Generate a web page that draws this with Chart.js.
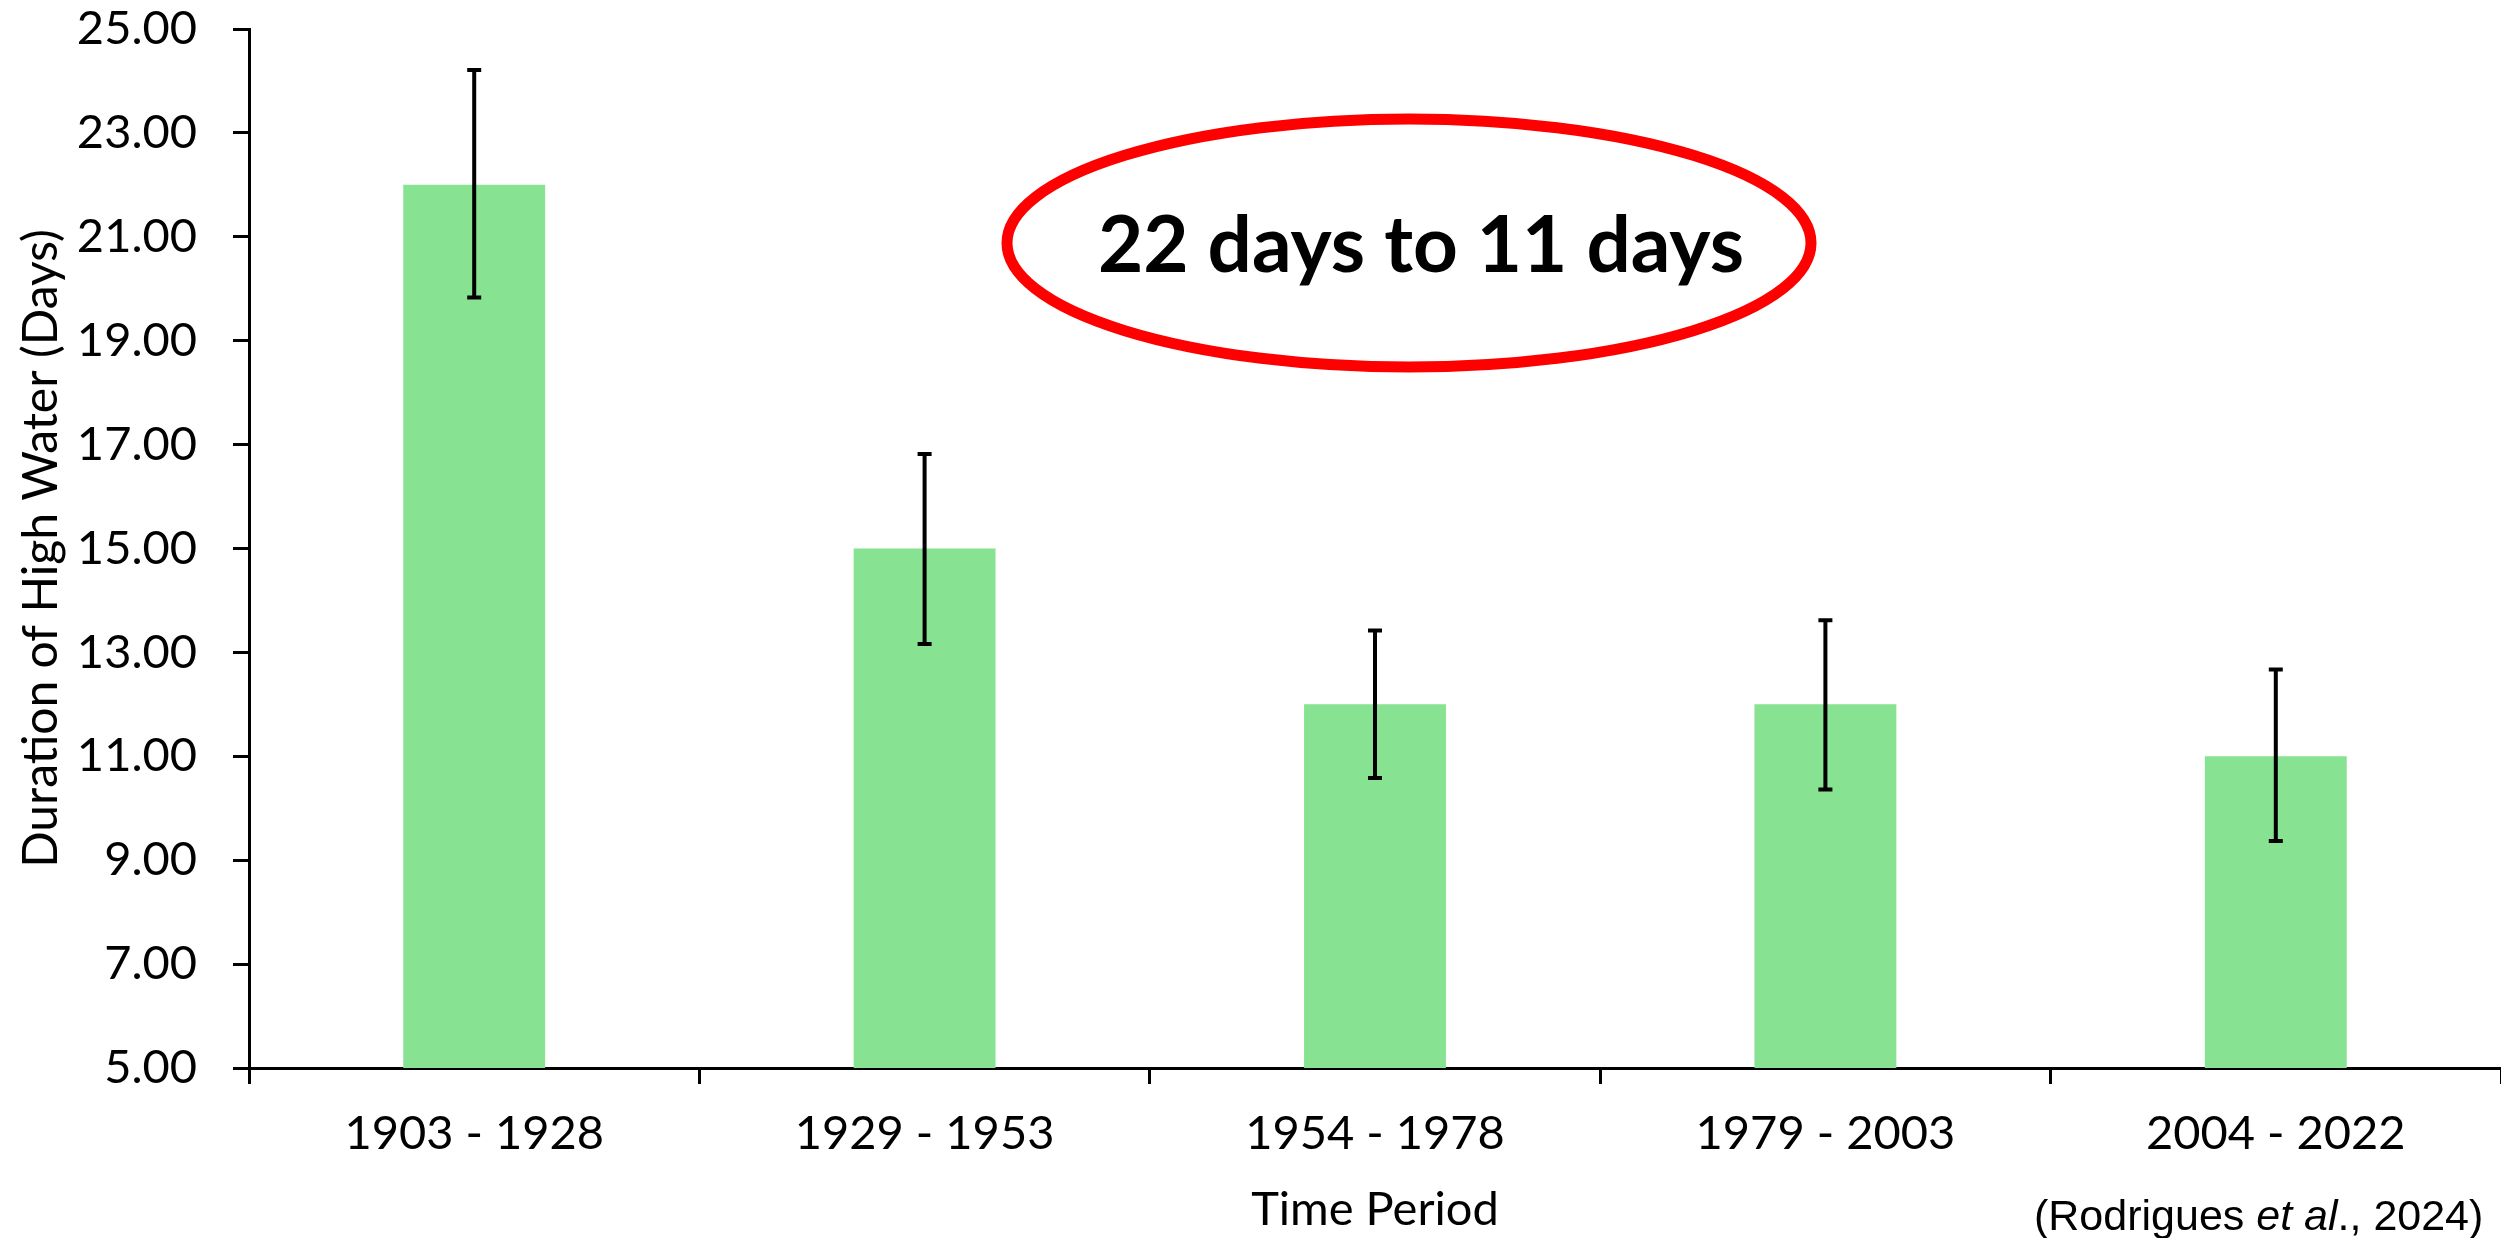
<!DOCTYPE html>
<html>
<head>
<meta charset="utf-8">
<script src="https://cdn.jsdelivr.net/npm/chart.js@4.4.1/dist/chart.umd.min.js"></script>
<style>
  html, body { margin: 0; padding: 0; background: #fff; }
  #wrap { width: 2501px; height: 1238px; }
</style>
</head>
<body>
<div id="wrap"><canvas id="dureeChart" width="2501" height="1238"></canvas></div>
<script>
'use strict';
// donnees
const periodes = ['1903 - 1928', '1929 - 1953', '1954 - 1978', '1979 - 2003', '2004 - 2022'];
const dureeMoyenne = [22, 15, 12, 12, 11];
const erreurHaute = [24.21, 16.82, 13.42, 13.62, 12.67];
const erreurBasse = [19.83, 13.16, 10.58, 10.36, 9.37];
const ticksY = [5, 7, 9, 11, 13, 15, 17, 19, 21, 23, 25];

const police = 'Lato';

// barres d'erreur (noires, avec petits chapeaux)
const barresErreur = {
  id: 'barresErreur',
  afterDatasetsDraw(chart) {
    const ctx = chart.ctx;
    const y = chart.scales.y;
    const meta = chart.getDatasetMeta(0);
    ctx.save();
    ctx.strokeStyle = '#000';
    ctx.lineWidth = 4;
    meta.data.forEach((bar, i) => {
      const yh = y.getPixelForValue(erreurHaute[i]);
      const yb = y.getPixelForValue(erreurBasse[i]);
      ctx.beginPath();
      ctx.moveTo(bar.x, yh); ctx.lineTo(bar.x, yb);
      ctx.moveTo(bar.x - 7, yh); ctx.lineTo(bar.x + 7, yh);
      ctx.moveTo(bar.x - 7, yb); ctx.lineTo(bar.x + 7, yb);
      ctx.stroke();
    });
    ctx.restore();
  }
};

// ellipse rouge + texte + source
const annotation = {
  id: 'annotation',
  afterDraw(chart) {
    const ctx = chart.ctx;
    ctx.save();
    ctx.strokeStyle = '#FF0000';
    ctx.lineWidth = 11;
    ctx.beginPath();
    ctx.ellipse(1409, 243, 402, 124, 0, 0, 2 * Math.PI);
    ctx.stroke();

    const txt = '22 days to 11 days';
    ctx.font = 'bold 78px ' + police;
    const w = ctx.measureText(txt).width;
    ctx.fillStyle = '#000';
    ctx.textAlign = 'center';
    ctx.textBaseline = 'alphabetic';
    ctx.translate(1421, 272);
    ctx.scale(646 / w, 1);
    ctx.fillText(txt, 0, 0);
    ctx.restore();

    // (Rodrigues et al., 2024)
    ctx.save();
    ctx.fillStyle = '#000';
    ctx.textBaseline = 'alphabetic';
    ctx.textAlign = 'left';
    let x = 2034;
    const yb = 1230;
    const morceaux = [['(Rodrigues ', ''], ['et al', 'italic '], ['., 2024)', '']];
    morceaux.forEach(([t, style]) => {
      ctx.font = style + '43px "Liberation Sans"';
      ctx.fillText(t, x, yb);
      x += ctx.measureText(t).width;
    });
    ctx.restore();
  }
};

const ctx = document.getElementById('dureeChart').getContext('2d');

const dureeChart = new Chart(ctx, {
  type: 'bar',
  data: {
    labels: periodes,
    datasets: [{
      data: dureeMoyenne,
      backgroundColor: '#87E291',
      borderWidth: 0,
      barPercentage: 0.315,
      categoryPercentage: 1
    }]
  },
  options: {
    responsive: false,
    animation: false,
    devicePixelRatio: 1,
    layout: { padding: 0 },
    plugins: {
      legend: { display: false },
      tooltip: { enabled: false }
    },
    scales: {
      x: {
        border: { color: '#000', width: 3 },
        grid: {
          drawOnChartArea: false,
          drawTicks: true,
          tickLength: 16,
          tickColor: '#000',
          tickWidth: 3,
          offset: true
        },
        ticks: {
          color: '#000',
          font: { family: police, size: 47 },
          padding: 22,
          maxRotation: 0
        },
        title: {
          display: true,
          text: 'Time Period',
          color: '#000',
          font: { family: police, size: 47 },
          padding: { top: 0, bottom: 0 }
        },
        afterFit(scale) { scale.height = 170; }
      },
      y: {
        min: 5,
        max: 25,
        border: { color: '#000', width: 3 },
        grid: {
          drawOnChartArea: false,
          drawTicks: true,
          tickLength: 16,
          tickColor: '#000',
          tickWidth: 3
        },
        afterBuildTicks(scale) {
          scale.ticks = ticksY.map(v => ({ value: v }));
        },
        ticks: {
          color: '#000',
          font: { family: police, size: 47 },
          padding: 36,
          callback: v => Number(v).toFixed(2)
        },
        title: {
          display: true,
          text: 'Duration of High Water (Days)',
          color: '#000',
          font: { family: police, size: 48 },
          padding: { top: 13, bottom: 0 }
        },
        afterFit(scale) {
          scale.width = 249;
          scale.paddingTop = 29; // haut de l'axe a 29 px
        }
      }
    }
  },
  plugins: [barresErreur, annotation]
});
</script>
</body>
</html>
